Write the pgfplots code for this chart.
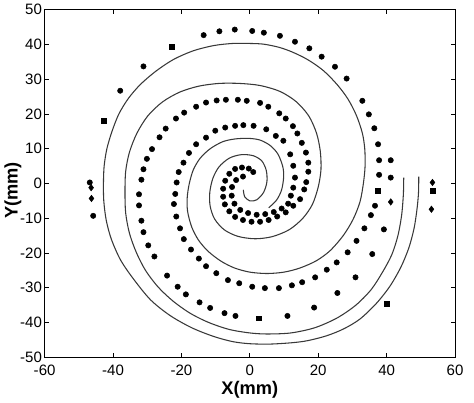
\documentclass[border=0pt]{standalone}
\usepackage{fontspec}
\setmainfont{Liberation Sans}
\usepackage{pgfplots}
\pgfplotsset{compat=1.18}
\begin{document}
\begin{tikzpicture}
\begin{axis}[
  scale only axis, width=308.25pt, height=261pt,
  xmin=-60, xmax=60, ymin=-50, ymax=50,
  xtick={-60,-40,...,60}, ytick={-50,-40,...,50},
  tick align=inside, major tick length=3pt,
  axis line style={line width=0.8pt},
  every tick/.style={line width=0.6pt, black},
  /pgf/number format/assume math mode=true,
  tick label style={font=\fontsize{11.3}{13}\selectfont},
  xticklabel style={yshift=-2.2pt},
  yticklabel style={xshift=1.5pt},
  xlabel={X(mm)}, ylabel={Y(mm)},
  label style={font=\bfseries\fontsize{13.7}{15}\selectfont},
  xlabel style={at={(axis description cs:0.5,-0.1063)}, anchor=base},
  ylabel style={at={(axis description cs:-0.0657,0.48)}, anchor=base},
  clip=false,
]
% spiral arm A (outer)
\addplot[smooth, no marks, color=black!78, line width=0.8pt] coordinates {
(49.4,2.0) (49.3,-3) (48.8,-8) (48.0,-13) (46.5,-18.5) (44.2,-24) (41,-29.5)
(37,-34.5) (32.2,-39) (27.5,-41.8) (22.5,-43.8) (17,-45.2) (12.5,-45.8) (6,-46.2)
(0,-46.1) (-5,-45.5) (-10.6,-44) (-17,-41.5) (-23.3,-38) (-29,-33.5) (-34,-27.5)
(-37.8,-22) (-40.5,-16) (-42,-10.5) (-42.7,-5) (-42.8,0) (-42.6,5) (-41.8,10)
(-40.3,15) (-38.3,20) (-35.5,24.5) (-32,28.5) (-27.5,32.3) (-22.3,35.7) (-16.5,38.2)
(-10.5,39.7) (-5,40.3) (0,40.3) (4,40.1) (8.5,39.2) (12.5,37.8) (17,35.6) (21.5,32.5)
(25.5,28.5) (28.7,24.3) (31.2,19.5) (32.9,14.5) (33.6,10) (33.7,5) (33.2,0) (32.2,-5.3)
(30.2,-10.3) (27.3,-15) (23.5,-19.3) (19.5,-22.2) (14.7,-24.3) (10,-25.5) (5,-25.9)
(0,-25.5) (-4.5,-24.3) (-8.5,-22.3) (-12.2,-19.5) (-15,-16.3) (-17,-12.5) (-18.2,-8)
(-18.3,-4) (-17.7,0) (-16.5,4) (-14.5,7.3) (-11.6,10) (-8,12) (-4.5,12.8) (-0.5,13)
(3,12.5) (6,10.9) (8.2,8.5) (9.6,5) (9.9,2) (9.3,-1.8) (7.8,-4.8) (5.5,-7)
};
% spiral arm B (inner)
\addplot[smooth, no marks, color=black!78, line width=0.8pt] coordinates {
(45,1.7) (44.9,-3) (44.4,-9) (43.3,-15) (41.5,-20.5) (38.8,-25.5) (35.5,-30.5)
(31,-35) (25.5,-38.7) (19,-41.5) (12,-43) (5,-43.3) (0,-43) (-6,-42) (-12,-40)
(-17.5,-37.3) (-22.5,-33.8) (-26.8,-29.8) (-30.5,-25) (-33.2,-19.8) (-35.2,-14.3)
(-36.3,-8.5) (-36.5,-2.6) (-36.3,3.5) (-35.2,9) (-33,14.5) (-29.8,19.5) (-25.5,23.5)
(-20.5,26.3) (-15,28) (-9,28.8) (-3,28.8) (3,28.2) (8.8,26.5) (13.5,23.6) (17.2,19.5)
(19.5,14.5) (20.6,9.3) (20.8,4) (20,-1) (18.3,-6) (15.5,-10) (11.5,-13.3) (6.5,-15.3)
(1.5,-15.9) (-3.5,-15.2) (-7.5,-13.3) (-10.3,-10.2) (-11.6,-6.5) (-11.7,-2.5)
(-10.8,1.5) (-9,4.8) (-6,7.3) (-2.5,8.3) (1,8) (3.5,6.5) (4.8,3.8) (5,0.5) (4,-2.6)
(2,-4.7) (0,-5) (-1.5,-3.8) (-1.9,-1.8)
};
% measured points, series 1 (outer ring following arm A)
\addplot[only marks, mark=*, mark size=2pt, black] coordinates {
(-46.8,0.3) (-45.8,-9.3)
(-37.9,26.7) (-31.1,33.7) (-13.5,42.7) (-8.9,43.8) (-4.4,44.3)
(0.7,43.9) (4.1,43.4) (8.8,42.5) (13.2,40.8) (17.4,38.9) (21,36.5) (24.9,33.6)
(28.3,30.2) (32.9,23.8) (34.8,19.9) (36.4,15.9) (37.5,11.3) (37.8,6.7) (37.8,2.5)
(36.6,-6.4) (35.4,-9.1) (33.5,-12.9) (31.2,-16.5) (28.6,-19.8) (25.4,-22.7)
(22.5,-24.8) (19.1,-27) (15.3,-28.4) (12.3,-29.3) (8.5,-30.1) (4.4,-30.1) (0.7,-29.7)
(-3.1,-28.7) (-6.4,-27.8) (-9.8,-25.8) (-12.8,-23.8) (-14.9,-21.6) (-17.2,-19)
(-19.3,-16) (-20.4,-12.9) (-21.5,-9.5) (-22.2,-5.9) (-21.8,-3) (-21.4,0.3) (-20.8,3.3)
(-19.4,6) (-17.8,8.8) (-15.7,11.3) (-12.8,13.2) (-10.1,15.2) (-7.2,16.1) (-4.3,16.6)
(-1.9,16.8) (1.1,16.6) (4.8,15.6) (7.6,13.7) (9.8,12.3) (11.8,8.4) (12.7,5.1)
(13.2,1.7) (12.7,-1.2) (12,-3.5) (11.2,-5.8) (9.3,-7.2) (7,-8.2) (4.5,-8.8) (2,-9)
(-0.5,-8.5) (-2.8,-7.6) (-4.5,-5.8) (-5.3,-3.5) (-5.2,-1) (-4,1) (-2,2)
};
% series 2 (ring inside arm B)
\addplot[only marks, mark=*, mark size=2pt, black] coordinates {
(41.2,6.7) (41.2,1.7) (39.2,-13.2) (35.8,-20.3) (30.9,-27) (25.6,-31.5)
(18.8,-35.7) (11,-38.1) (-4.2,-38.1) (-7.4,-37.3) (-11.6,-35.8) (-14.7,-34.2)
(-18.7,-31.9) (-21.1,-29.7) (-24.2,-26.5) (-27.9,-21) (-29.7,-17.8) (-31.1,-14)
(-31.7,-10.7) (-32.4,-6.3) (-32.4,-3.1) (-31.7,1.1) (-31.1,4.1) (-30.1,7.1) (-28.6,9.9)
(-26.4,13.3) (-24.6,15.8) (-21.6,18.7) (-19.2,20.4) (-15.7,22.1) (-12.8,23.3)
(-9.7,23.9) (-7,24.1) (-3.5,24.1) (-0.9,23.8) (3,23.2) (5.4,22.1) (8.6,20.2)
(10.5,18.7) (12.6,16.5) (13.9,14.4) (15.2,11.7) (16.4,8.9) (17.1,6) (17.1,3.4)
(16.5,0.4) (15.9,-1.7) (14.7,-4.5) (12.7,-6.4) (10.5,-8.3) (8,-9.5) (5.5,-10.5)
(3,-11) (0.5,-11) (-2,-10.5) (-4.3,-9.6) (-6,-8) (-7.3,-6) (-7.8,-3.8) (-7.8,-1.5)
(-7.2,0.8) (-6,2.8) (-4.3,4.2) (-2.3,4.6) (-0.3,4.3) (1,3.3)
};
% series 3 (square markers)
\addplot[only marks, mark=square*, mark size=1.8pt, black] coordinates {
(-42.7,18) (-22.8,39.4) (37.5,-2.1) (53.6,-2.1) (40,-34.5) (2.7,-38.8)
};
% series 4 (diamond markers)
\addplot[only marks, mark=diamond*, mark size=2.4pt, black] coordinates {
(-46.4,-1.2) (-46.3,-4.3) (41.2,-5.3) (53.4,0.3) (53.1,-7.4)
};
\path ([xshift=-33pt,yshift=-33pt]rel axis cs:0,0) rectangle ([xshift=14.25pt,yshift=5.25pt]rel axis cs:1,1);
\end{axis}
\end{tikzpicture}
\end{document}
